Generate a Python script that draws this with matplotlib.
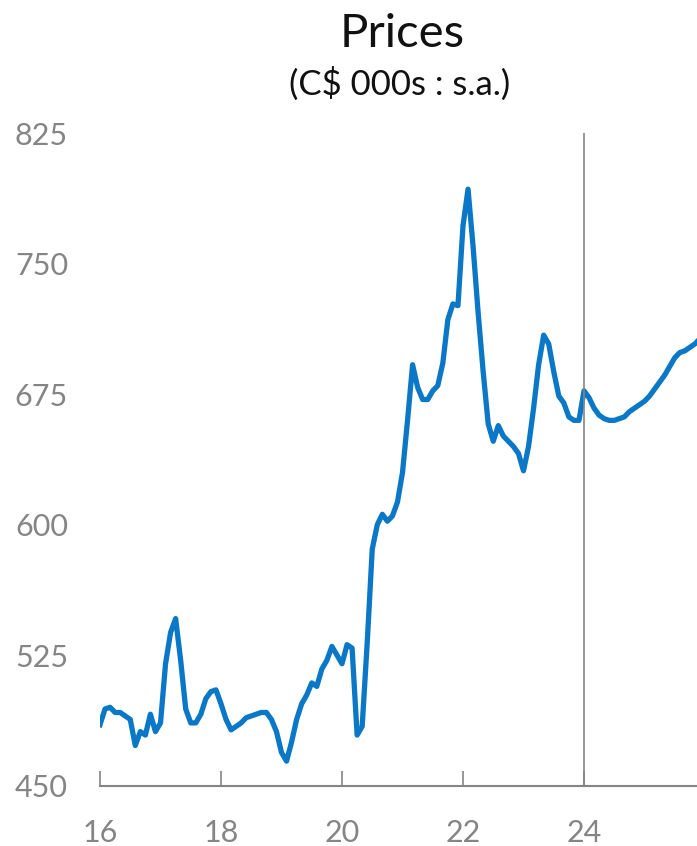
import matplotlib
matplotlib.use("Agg")
import matplotlib.pyplot as plt
import numpy as np

plt.rcParams['font.family'] = ['Lato', 'DejaVu Sans']

# monthly prices, C$ 000s, Jan 2016 onwards
start_year = 2016
prices = [
    485, 494, 495, 492, 492, 490, 488, 473, 481, 479, 491, 481,   # 2016
    486, 520, 538, 546, 522, 494, 486, 486, 491, 500, 504, 505,   # 2017
    497, 488, 482, 484, 486, 489, 490, 491, 492, 492, 488, 481,   # 2018
    469, 464, 475, 488, 497, 502, 509, 507, 517, 522, 530, 525,   # 2019
    520, 531, 529, 479, 484, 532, 586, 600, 606, 602, 605, 613,   # 2020
    630, 660, 692, 679, 672, 672, 677, 680, 693, 718, 727, 726,   # 2021
    772, 793, 760, 722, 688, 658, 648, 657, 651, 648, 645, 641,   # 2022
    631, 645, 667, 692, 709, 704, 688, 674, 670, 662, 660, 660,   # 2023
    677, 673, 667, 663, 661, 660, 660, 661, 662, 665, 667, 669,   # 2024
    671, 674, 678, 682, 686, 691, 696, 699, 700, 702, 704, 707,   # 2025
]
xticks = [16, 18, 20, 22, 24]
yticks = [450, 525, 600, 675, 750, 825]
marker_year = 24

x = start_year - 2000 + np.arange(len(prices)) / 12

gray = '#858585'
fig = plt.figure(figsize=(6.97, 8.46), dpi=100)
ax = fig.add_axes([100 / 697, 1 - 785.5 / 846, 597 / 697, 652 / 846])

ax.plot(x, prices, color='#0A78C6', lw=3.8, solid_joinstyle='round')
ax.axvline(marker_year, color=gray, lw=1.2)

ax.set_xlim(16, 16 + 597 / 60.5)
ax.set_ylim(450, 825)
ax.set_xticks(xticks)
ax.set_xticklabels([str(t) for t in xticks])
ax.set_yticks(yticks)
ax.set_yticklabels([str(t) for t in yticks])

for s in ['top', 'right', 'left']:
    ax.spines[s].set_visible(False)
ax.spines['bottom'].set_color(gray)
ax.spines['bottom'].set_linewidth(1.5)

ax.tick_params(axis='x', direction='in', length=11, width=1.2, color=gray,
               labelcolor=gray, labelsize=22, pad=24)
ax.tick_params(axis='y', length=0, labelcolor=gray, labelsize=22, pad=23)

fig.text(402 / 697, 1 - 47 / 846, 'Prices', ha='center', va='baseline',
         fontsize=34, color='#111111')
fig.text(400 / 697, 1 - 95 / 846, '(C$ 000s : s.a.)', ha='center', va='baseline',
         fontsize=25, color='#111111')

fig.savefig('out.png', dpi=100)
